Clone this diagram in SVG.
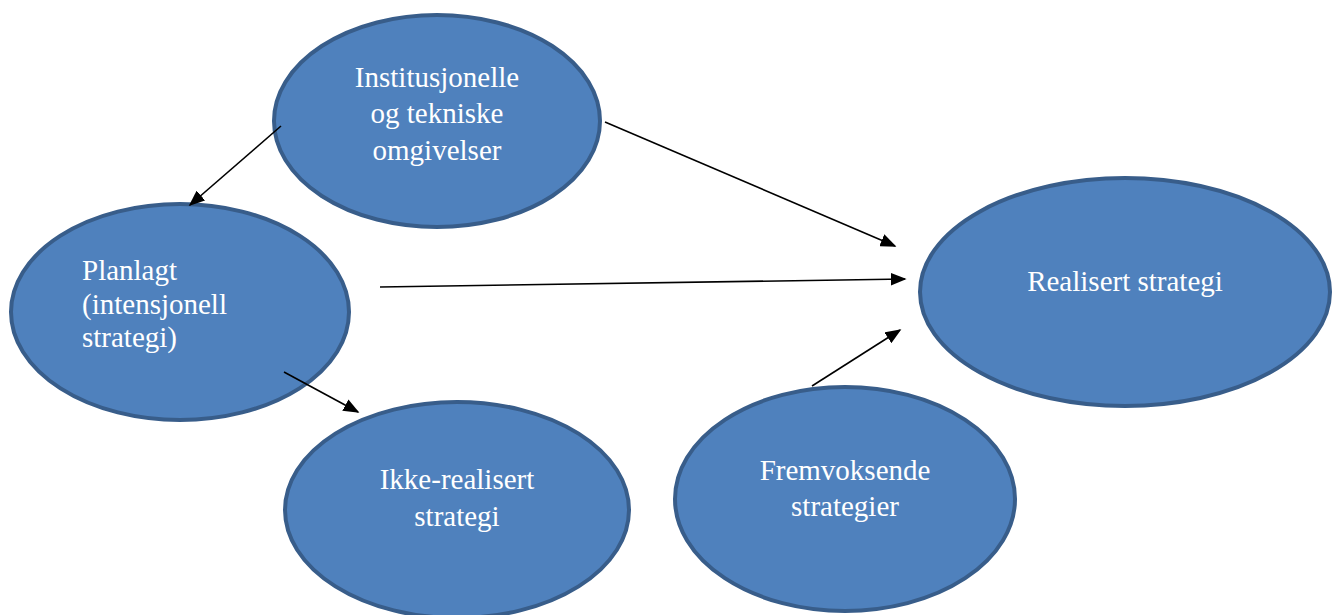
<svg xmlns="http://www.w3.org/2000/svg" width="1338" height="615" viewBox="0 0 1338 615">
<style>
.node{fill:#4F81BD;stroke:#385D8A;stroke-width:4}
.t{font-family:"Liberation Serif","Times New Roman",serif;font-size:29px;fill:#fff}
.c{text-anchor:middle}
.conn line{stroke:#000;stroke-width:1.6;marker-end:url(#ah)}
</style>
<defs>
<marker id="ah" viewBox="0 0 10 10" refX="9" refY="5" markerWidth="16" markerHeight="13" markerUnits="userSpaceOnUse" orient="auto" preserveAspectRatio="none">
<path d="M0,0 L10,5 L0,10 z" fill="#000"/>
</marker>
</defs>
<rect width="1338" height="615" fill="#fff"/>
<g id="n-institusjonelle">
<ellipse class="node" cx="437" cy="121" rx="163" ry="106"/>
<text class="t c" x="437" y="87">Institusjonelle</text>
<text class="t c" x="437" y="123">og tekniske</text>
<text class="t c" x="437" y="160">omgivelser</text>
</g>
<g id="n-planlagt">
<ellipse class="node" cx="180" cy="312" rx="169" ry="108"/>
<text class="t" x="82" y="280">Planlagt</text>
<text class="t" x="82" y="314">(intensjonell</text>
<text class="t" x="82" y="347">strategi)</text>
</g>
<g id="n-ikke">
<ellipse class="node" cx="457" cy="510" rx="172" ry="108"/>
<text class="t c" x="457" y="489">Ikke-realisert</text>
<text class="t c" x="457" y="526">strategi</text>
</g>
<g id="n-fremvoksende">
<ellipse class="node" cx="845" cy="499" rx="170" ry="112"/>
<text class="t c" x="845" y="480">Fremvoksende</text>
<text class="t c" x="845" y="516">strategier</text>
</g>
<g id="n-realisert">
<ellipse class="node" cx="1125" cy="292" rx="205" ry="114"/>
<text class="t c" x="1125" y="291">Realisert strategi</text>
</g>
<g class="conn" id="connectors">
<line x1="281" y1="126" x2="190" y2="205"/>
<line x1="605" y1="122" x2="895" y2="246"/>
<line x1="380" y1="287" x2="905" y2="279"/>
<line x1="284" y1="372" x2="358" y2="412"/>
<line x1="812" y1="386" x2="900" y2="330"/>
</g>
</svg>
